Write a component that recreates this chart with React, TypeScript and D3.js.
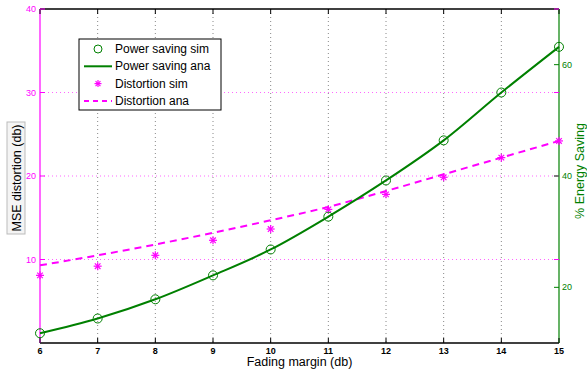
import { useRef, useEffect } from 'react';
import * as d3 from 'd3';

const fading = [6, 7, 8, 9, 10, 11, 12, 13, 14, 15];
const powerSim = [11.75, 14.4, 17.85, 22.15, 26.8, 32.7, 39.2, 46.4, 55.0, 63.2];
const powerAna = [11.75, 14.4, 17.85, 22.15, 26.8, 32.7, 39.2, 46.4, 55.0, 63.2];
const distSim = [8.1, 9.2, 10.5, 12.3, 13.65, 16.0, 17.8, 19.85, 22.2, 24.2];
const distAna = [9.3, 10.5, 11.8, 13.2, 14.7, 16.3, 18.2, 20.2, 22.2, 24.2];
const leftTicks = [10, 20, 30, 40];
const rightTicks = [20, 40, 60];
const legendItems = ['Power saving sim', 'Power saving ana', 'Distortion sim', 'Distortion ana'];

const W = 587;
const H = 372;
const M = { left: 40, right: 559, top: 9, bottom: 343 };
const GREEN = '#008000';
const MAGENTA = '#ff00ff';
const FONT = 'Liberation Sans, Arial, sans-serif';

export default function App() {
  const svgRef = useRef<SVGSVGElement>(null);

  useEffect(() => {
    const svg = d3.select(svgRef.current);
    svg.selectAll('*').remove();

    const x = d3.scaleLinear().domain([6, 15]).range([M.left, M.right]);
    const yL = d3.scaleLinear().domain([0, 40]).range([M.bottom, M.top]);
    const yR = d3.scaleLinear().domain([10, 70]).range([M.bottom, M.top]);

    svg.append('rect').attr('width', W).attr('height', H).attr('fill', '#fff');

    // Grid
    const grid = svg.append('g');
    fading.slice(1, -1).forEach((v) => {
      grid
        .append('line')
        .attr('x1', x(v))
        .attr('x2', x(v))
        .attr('y1', M.top)
        .attr('y2', M.bottom)
        .attr('stroke', '#888')
        .attr('stroke-width', 1)
        .attr('stroke-dasharray', '1,3');
    });
    leftTicks.slice(0, -1).forEach((v) => {
      grid
        .append('line')
        .attr('x1', M.left)
        .attr('x2', M.right)
        .attr('y1', yL(v))
        .attr('y2', yL(v))
        .attr('stroke', MAGENTA)
        .attr('stroke-opacity', 0.6)
        .attr('stroke-width', 1)
        .attr('stroke-dasharray', '1,3');
    });

    // Box
    svg.append('line').attr('x1', M.left).attr('x2', M.right).attr('y1', M.top).attr('y2', M.top).attr('stroke', '#000').attr('stroke-width', 1.5);
    svg.append('line').attr('x1', M.left).attr('x2', M.right).attr('y1', M.bottom).attr('y2', M.bottom).attr('stroke', '#000').attr('stroke-width', 1.5);
    svg.append('line').attr('x1', M.left).attr('x2', M.left).attr('y1', M.top).attr('y2', M.bottom).attr('stroke', MAGENTA).attr('stroke-width', 1.2);
    svg.append('line').attr('x1', M.right).attr('x2', M.right).attr('y1', M.top).attr('y2', M.bottom).attr('stroke', GREEN).attr('stroke-width', 1.2);

    // X ticks
    fading.forEach((v) => {
      svg.append('line').attr('x1', x(v)).attr('x2', x(v)).attr('y1', M.bottom).attr('y2', M.bottom - 5).attr('stroke', '#000');
      svg.append('line').attr('x1', x(v)).attr('x2', x(v)).attr('y1', M.top).attr('y2', M.top + 5).attr('stroke', '#000');
      svg
        .append('text')
        .attr('x', x(v))
        .attr('y', M.bottom + 11)
        .attr('text-anchor', 'middle')
        .attr('font-family', FONT)
        .attr('font-size', 9)
        .attr('font-weight', 'bold')
        .attr('fill', '#000')
        .text(v);
    });

    // Left ticks
    leftTicks.forEach((v) => {
      svg.append('line').attr('x1', M.left).attr('x2', M.left + 5).attr('y1', yL(v)).attr('y2', yL(v)).attr('stroke', MAGENTA);
      svg.append('line').attr('x1', M.right).attr('x2', M.right - 5).attr('y1', yL(v)).attr('y2', yL(v)).attr('stroke', MAGENTA);
      svg
        .append('text')
        .attr('x', M.left - 4)
        .attr('y', yL(v) + 3)
        .attr('text-anchor', 'end')
        .attr('font-family', FONT)
        .attr('font-size', 9)
        .attr('fill', MAGENTA)
        .text(v);
    });

    // Right ticks
    rightTicks.forEach((v) => {
      svg.append('line').attr('x1', M.right).attr('x2', M.right - 5).attr('y1', yR(v)).attr('y2', yR(v)).attr('stroke', GREEN);
      svg
        .append('text')
        .attr('x', M.right + 3)
        .attr('y', yR(v) + 3)
        .attr('font-family', FONT)
        .attr('font-size', 9)
        .attr('fill', GREEN)
        .text(v);
    });

    // Lines
    const lineR = d3
      .line<number>()
      .x((_, i) => x(fading[i]))
      .y((d) => yR(d))
      .curve(d3.curveMonotoneX);
    const lineL = d3
      .line<number>()
      .x((_, i) => x(fading[i]))
      .y((d) => yL(d))
      .curve(d3.curveMonotoneX);

    svg.append('path').attr('d', lineL(distAna)).attr('fill', 'none').attr('stroke', MAGENTA).attr('stroke-width', 2).attr('stroke-dasharray', '7,5');
    svg.append('path').attr('d', lineR(powerAna)).attr('fill', 'none').attr('stroke', GREEN).attr('stroke-width', 2);

    const star = (g: d3.Selection<SVGGElement, unknown, null, undefined>, cx: number, cy: number, s: number) => {
      const d = s * 0.7;
      [
        [0, -s, 0, s],
        [-s, 0, s, 0],
        [-d, -d, d, d],
        [-d, d, d, -d],
      ].forEach(([a, b, c, e]) => {
        g.append('line')
          .attr('x1', cx + a)
          .attr('y1', cy + b)
          .attr('x2', cx + c)
          .attr('y2', cy + e)
          .attr('stroke', MAGENTA)
          .attr('stroke-width', 1.2);
      });
    };

    const stars = svg.append('g');
    distSim.forEach((v, i) => star(stars, x(fading[i]), yL(v), 4));

    powerSim.forEach((v, i) => {
      svg
        .append('circle')
        .attr('cx', x(fading[i]))
        .attr('cy', yR(v))
        .attr('r', 4.5)
        .attr('fill', 'none')
        .attr('stroke', GREEN)
        .attr('stroke-width', 1);
    });

    // Legend
    const lg = svg.append('g');
    lg.append('rect')
      .attr('x', 79)
      .attr('y', 39)
      .attr('width', 142)
      .attr('height', 71)
      .attr('fill', '#fff')
      .attr('stroke', '#000')
      .attr('stroke-width', 1);
    legendItems.forEach((t, i) => {
      const ly = 49 + i * 17.3;
      if (i === 0) {
        lg.append('circle').attr('cx', 98).attr('cy', ly).attr('r', 4).attr('fill', 'none').attr('stroke', GREEN);
      } else if (i === 1) {
        lg.append('line').attr('x1', 84).attr('x2', 112).attr('y1', ly).attr('y2', ly).attr('stroke', GREEN).attr('stroke-width', 2);
      } else if (i === 2) {
        star(lg, 98, ly, 3.5);
      } else {
        lg.append('line').attr('x1', 84).attr('x2', 112).attr('y1', ly).attr('y2', ly).attr('stroke', MAGENTA).attr('stroke-width', 2).attr('stroke-dasharray', '5,4');
      }
      lg.append('text')
        .attr('x', 115)
        .attr('y', ly + 4)
        .attr('font-family', FONT)
        .attr('font-size', 12)
        .attr('fill', '#000')
        .text(t);
    });

    // Axis labels
    svg
      .append('text')
      .attr('x', (M.left + M.right) / 2)
      .attr('y', 366)
      .attr('text-anchor', 'middle')
      .attr('font-family', FONT)
      .attr('font-size', 12.5)
      .attr('fill', '#000')
      .text('Fading margin (db)');

    const yl = svg.append('g').attr('transform', 'translate(16,178) rotate(-90)');
    yl.append('rect').attr('x', -56).attr('y', -9).attr('width', 112).attr('height', 18).attr('fill', '#f4f4f4').attr('stroke', '#bbb');
    yl.append('text')
      .attr('x', 0)
      .attr('y', 4.5)
      .attr('text-anchor', 'middle')
      .attr('font-family', FONT)
      .attr('font-size', 12.5)
      .attr('fill', '#000')
      .text('MSE distortion (db)');

    svg
      .append('text')
      .attr('transform', 'translate(584,171) rotate(-90)')
      .attr('text-anchor', 'middle')
      .attr('font-family', FONT)
      .attr('font-size', 12.5)
      .attr('fill', GREEN)
      .text('% Energy Saving');
  }, []);

  return (
    <svg
      ref={svgRef}
      width={W}
      height={H}
      style={{ position: 'absolute', left: 0, top: 0 }}
    />
  );
}
